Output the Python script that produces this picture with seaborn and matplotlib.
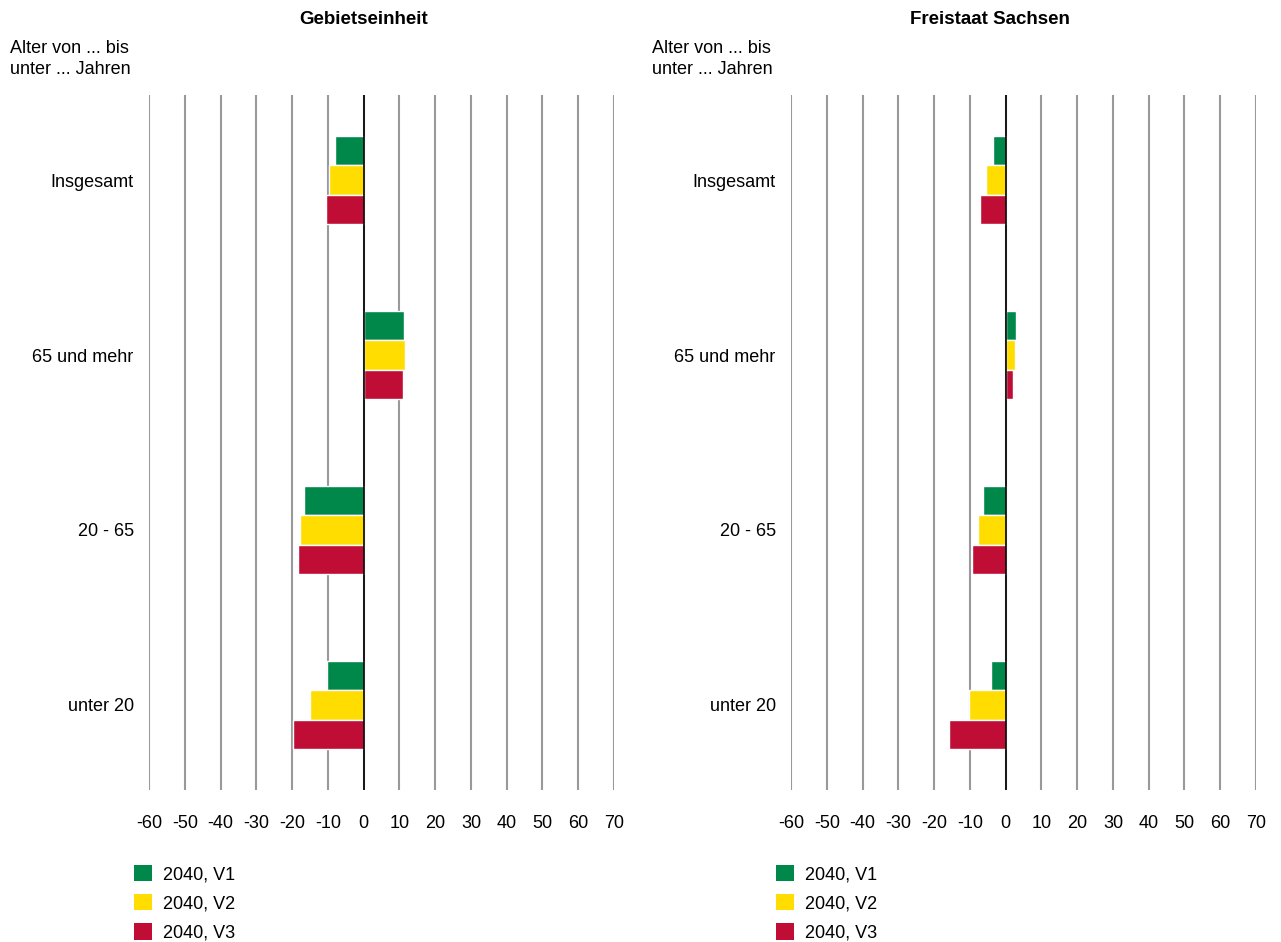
import pandas as pd
import matplotlib.pyplot as plt
import seaborn as sns
from matplotlib.patches import Patch

categories = ['Insgesamt', '65 und mehr', '20 - 65', 'unter 20']
series = ['2040, V1', '2040, V2', '2040, V3']
colors = ['#00884a', '#ffdd00', '#c00d35']

# change in percent
gebiet_v1 = [-8.1, 11.2, -16.8, -10.3]
gebiet_v2 = [-9.8, 11.5, -17.9, -15.1]
gebiet_v3 = [-10.6, 10.9, -18.4, -19.8]
sachsen_v1 = [-3.6, 2.8, -6.2, -4.2]
sachsen_v2 = [-5.6, 2.5, -7.8, -10.1]
sachsen_v3 = [-7.3, 2.0, -9.5, -15.7]

xticks = list(range(-60, 71, 10))


def make_df(v1, v2, v3):
    rows = []
    for s, vals in zip(series, [v1, v2, v3]):
        for c, v in zip(categories, vals):
            rows.append({'Alter': c, 'Serie': s, 'Wert': v})
    return pd.DataFrame(rows)


plt.rcParams['font.family'] = ['Liberation Sans', 'DejaVu Sans']
fig = plt.figure(figsize=(12.81, 9.42), dpi=100)

panels = [
    ('Gebietseinheit', 149, 364, make_df(gebiet_v1, gebiet_v2, gebiet_v3)),
    ('Freistaat Sachsen', 791, 990, make_df(sachsen_v1, sachsen_v2, sachsen_v3)),
]

for title, left_px, title_px, df in panels:
    ax = fig.add_axes([left_px / 1281, 1 - 790 / 942, 465 / 1281, 695 / 942])
    for t in xticks:
        ax.axvline(t, color='#999999', lw=1.5, zorder=0.5)
    sns.barplot(data=df, y='Alter', x='Wert', hue='Serie', order=categories,
                hue_order=series, palette=colors, saturation=1, orient='h',
                width=0.5, edgecolor='white', linewidth=1, legend=False, ax=ax)
    ax.axvline(0, color='black', lw=1.2, zorder=4)
    ax.set_xlim(-60, 70)
    ax.set_ylim(3.486, -0.486)
    ax.set_xticks(xticks)
    ax.set_xticklabels([str(t) for t in xticks], fontsize=13)
    ax.tick_params(length=0, pad=18)
    ax.tick_params(axis='y', pad=11, labelsize=13)
    for s in ax.spines.values():
        s.set_visible(False)
    ax.set_xlabel('')
    ax.set_ylabel('')
    fig.text(title_px / 1281, 1 - 20 / 942, title, ha='center', va='center',
             fontsize=13.5, fontweight='bold')
    fig.text((left_px - 139) / 1281, 1 - 59 / 942, 'Alter von ... bis\nunter ... Jahren',
             ha='left', va='center', fontsize=13, linespacing=1.25)
    handles = [Patch(facecolor=c, label=s) for c, s in zip(colors, series)]
    fig.legend(handles=handles, loc='upper left',
               bbox_to_anchor=((left_px - 22) / 1281, 1 - 858 / 942),
               frameon=False, fontsize=13, handlelength=1.0, handleheight=1.0,
               labelspacing=0.6, handletextpad=0.6, borderaxespad=0)

fig.savefig('out.png', dpi=100)
